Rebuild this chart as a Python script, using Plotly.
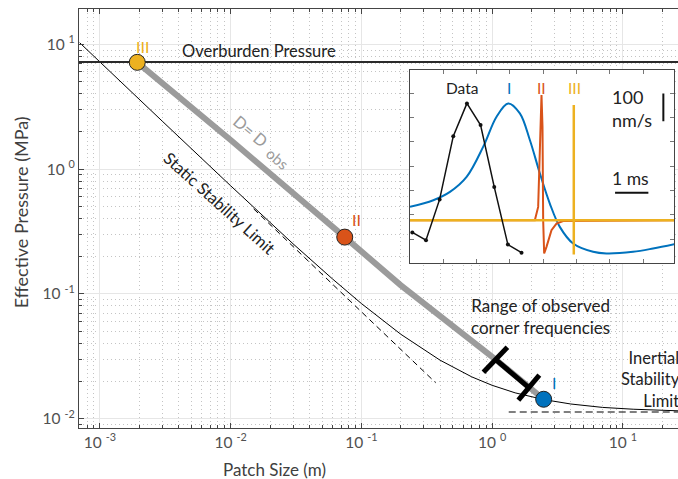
import plotly.graph_objects as go

# ---------------- data ----------------
# Static / inertial stability limit (solid curve)
stab_x = [0.0007, 0.001, 0.003, 0.01, 0.03, 0.06, 0.1, 0.2, 0.4, 0.7, 1.0, 1.5, 2.5, 4.0, 7.0, 12.0, 20.0, 30.0]
stab_y = [10.3, 7.25, 2.42, 0.735, 0.252, 0.132, 0.0837, 0.0475, 0.0294, 0.0216, 0.0185, 0.0161, 0.0142, 0.0131, 0.0123, 0.0119, 0.0117, 0.0115]
# static asymptote (dashed)
static_x = [0.015, 0.37]
static_y = [0.48, 0.0194]
# inertial asymptote (dashed)
inert_x = [1.34, 30.0]
inert_y = [0.0113, 0.0113]
# overburden pressure
over_x = [0.0005, 30.0]
over_y = [7.2, 7.2]
# D = D_obs
dobs_x = [0.00193, 0.01, 0.0746, 0.1995, 1.06, 1.89, 2.48]
dobs_y = [7.17, 1.71, 0.285, 0.1175, 0.0299, 0.0179, 0.0143]
# range of observed corner frequencies
range_x = [1.06, 1.89]
range_y = [0.0299, 0.0179]
cap1_x = [0.858, 1.309]
cap1_y = [0.02355, 0.0374]
cap2_x = [1.588, 2.297]
cap2_y = [0.01405, 0.0223]
# models I, II, III
model_names = ["I", "II", "III"]
model_x = [2.48, 0.0746, 0.00193]
model_y = [0.0143, 0.285, 7.17]
model_colors = ["#0072BD", "#D95319", "#EDB120"]

# inset: time (ms) and velocity (nm/s)
data_t = [0.07, 0.48, 0.89, 1.30, 1.71, 2.12, 2.53, 2.94, 3.35]
data_v = [-44, -72, 75, 303, 421, 343, 120, -88, -117]
I_t = [0.0, 0.7, 1.2, 1.7, 2.2, 2.6, 2.95, 3.3, 3.6, 3.9, 4.2, 4.5, 4.9, 5.5, 5.9, 6.7, 7.3, 7.95]
I_v = [48, 72, 102, 156, 265, 373, 421, 385, 289, 169, 60, -24, -84, -114, -120, -114, -102, -86]
II_t = [0.0, 3.75, 3.85, 3.9, 3.95, 3.98, 4.0, 4.03, 4.1, 4.25, 4.4, 4.6, 7.95]
II_v = [0, 0, 48, 217, 451, 337, 0, -120, -96, -36, -12, -3, 0]
III_t = [0.0, 4.92, 4.92, 4.92, 4.92, 7.95]
III_v = [0, 0, 415, -124, 0, 0]
vbar_t = [7.61, 7.61]
vbar_v = [357, 457]
tbar_t = [6.16, 7.16]
tbar_v = [99, 99]

# tick labels
x_ticks = [1e-3, 1e-2, 1e-1, 1e0, 1e1]
x_ticktext = ["10 <sup>-3</sup>", "10 <sup>-2</sup>", "10 <sup>-1</sup>", "10 <sup>0</sup>", "10 <sup>1</sup>"]
y_ticks = [1e-2, 1e-1, 1e0, 1e1]
y_ticktext = ["10 <sup>-2</sup>", "10 <sup>-1</sup>", "10 <sup>0</sup>", "10 <sup>1</sup>"]

# ---------------- figure ----------------
W, H = 678, 479
L, R, T, B = 79, 0, 9, 51.3
FONT = "Lato"


def px(x):
    return (x - L) / (W - L - R)


def py(y):
    return (H - B - y) / (H - T - B)


fig = go.Figure()
fig.add_trace(go.Scatter(x=stab_x, y=stab_y, mode="lines", line=dict(color="black", width=1), hoverinfo="skip"))
fig.add_trace(go.Scatter(x=static_x, y=static_y, mode="lines", line=dict(color="black", width=1, dash="6px,4px")))
fig.add_trace(go.Scatter(x=inert_x, y=inert_y, mode="lines", line=dict(color="black", width=1.2, dash="7px,4px")))
fig.add_trace(go.Scatter(x=over_x, y=over_y, mode="lines", line=dict(color="#2b2b2b", width=2)))
fig.add_trace(go.Scatter(x=dobs_x, y=dobs_y, mode="lines", line=dict(color="#9b9b9b", width=6)))
for xs, ys in [(range_x, range_y), (cap1_x, cap1_y), (cap2_x, cap2_y)]:
    fig.add_trace(go.Scatter(x=xs, y=ys, mode="lines", line=dict(color="black", width=5)))
fig.add_trace(go.Scatter(x=model_x, y=model_y, mode="markers",
                         marker=dict(size=16, color=model_colors, line=dict(color="#222", width=1))))

# inset traces
fig.add_trace(go.Scatter(x=I_t, y=I_v, xaxis="x2", yaxis="y2", mode="lines", line=dict(color="#0072BD", width=2, shape="spline")))
fig.add_trace(go.Scatter(x=II_t, y=II_v, xaxis="x2", yaxis="y2", mode="lines", line=dict(color="#D95319", width=2)))
fig.add_trace(go.Scatter(x=III_t, y=III_v, xaxis="x2", yaxis="y2", mode="lines", line=dict(color="#EDB120", width=2.5)))
fig.add_trace(go.Scatter(x=data_t, y=data_v, xaxis="x2", yaxis="y2", mode="lines+markers",
                         line=dict(color="#111", width=1.5), marker=dict(size=4, color="#111")))
fig.add_trace(go.Scatter(x=vbar_t, y=vbar_v, xaxis="x2", yaxis="y2", mode="lines", line=dict(color="#111", width=2)))
fig.add_trace(go.Scatter(x=tbar_t, y=tbar_v, xaxis="x2", yaxis="y2", mode="lines", line=dict(color="#111", width=2)))

minor_x = [m * 10.0 ** e for e in range(-4, 2) for m in range(2, 10)]
minor_y = [m * 10.0 ** e for e in range(-3, 2) for m in range(2, 10)]

axis_common = dict(
    type="log", showline=True, linecolor="#454545", linewidth=1,
    ticks="inside", ticklen=5, tickcolor="#454545", tickwidth=1,
    tickfont=dict(family=FONT, size=15.5, color="#505050"),
    showgrid=True, gridcolor="#e6e6e6", gridwidth=1, zeroline=False,
    tickmode="array",
)
minor_common = dict(tickmode="array", ticks="inside", ticklen=3, tickcolor="#454545",
                    showgrid=True, gridcolor="#c4c4c4", griddash="1px,3px", gridwidth=1)

fig.update_layout(
    width=W, height=H,
    margin=dict(l=L, r=R, t=T, b=B, pad=0),
    paper_bgcolor="white", plot_bgcolor="white",
    showlegend=False,
    font=dict(family=FONT, size=15, color="#222"),
    xaxis=dict(axis_common, range=[-3.16, 1.422], tickvals=x_ticks, ticktext=x_ticktext, mirror="ticks",
               minor=dict(minor_common, tickvals=minor_x)),
    yaxis=dict(axis_common, range=[-2.075, 1.283], tickvals=y_ticks, ticktext=y_ticktext,
               minor=dict(minor_common, tickvals=minor_y)),
    xaxis2=dict(domain=[px(410), px(674)], anchor="y2", range=[0, 7.93], showline=True, mirror="ticks",
                linecolor="#454545", ticks="inside", ticklen=4, tickcolor="#777", tickmode="linear",
                tick0=0, dtick=1, showticklabels=False, showgrid=False, zeroline=False),
    yaxis2=dict(domain=[py(263.3), py(69.5)], anchor="x2", range=[-156, 543], showline=True, mirror="ticks",
                linecolor="#454545", ticks="inside", ticklen=4, tickcolor="#777", tickmode="linear",
                tick0=-68.6, dtick=87.7, showticklabels=False, showgrid=False, zeroline=False),
)

fig.add_shape(type="rect", xref="x2 domain", yref="y2 domain", x0=0, x1=1, y0=0, y1=1,
              fillcolor="white", line=dict(width=0), layer="below")


def ann(text, x, y, size=16, color="#222", angle=0, xanchor="center", align="center"):
    fig.add_annotation(text=text, x=px(x), y=py(y), xref="paper", yref="paper", showarrow=False,
                       font=dict(family=FONT, size=size, color=color), textangle=angle,
                       xanchor=xanchor, yanchor="middle", align=align)


ann("Overburden Pressure", 259, 51, size=16.5)
ann("III", 142, 46, color="#EDB120")
ann("II", 356, 219, color="#D95319")
ann("I", 554, 382, color="#0072BD")
ann("D= D", 250, 131, size=16.5, color="#9b9b9b", angle=40)
ann("obs", 277, 158, size=15, color="#9b9b9b", angle=40)
ann("Static Stability Limit", 219, 203, size=16.5, angle=42)
ann("Range of observed<br>corner frequencies", 540, 316, size=17)
ann("Inertial<br>Stability<br>Limit", 682, 379, size=16.5, xanchor="right", align="right")
ann("Effective Pressure (MPa)", 21, 212, size=18, color="#404040", angle=-90)
ann("Patch Size (m)", 274, 469, size=17, color="#404040")
# inset labels
ann("Data", 462, 88, size=15.5)
ann("I", 509, 88, size=15.5, color="#0072BD")
ann("II", 541.5, 88, size=15.5, color="#D95319")
ann("III", 574, 88, size=15.5, color="#EDB120")
ann("100<br>nm/s", 610, 108, size=18, xanchor="left", align="left")
ann("1 ms", 630, 178, size=17.5)

fig.write_html("out.html", config={"displayModeBar": False},
               post_script="document.body.style.margin='0';document.body.style.padding='0';"
                           "document.body.style.overflow='hidden';")
